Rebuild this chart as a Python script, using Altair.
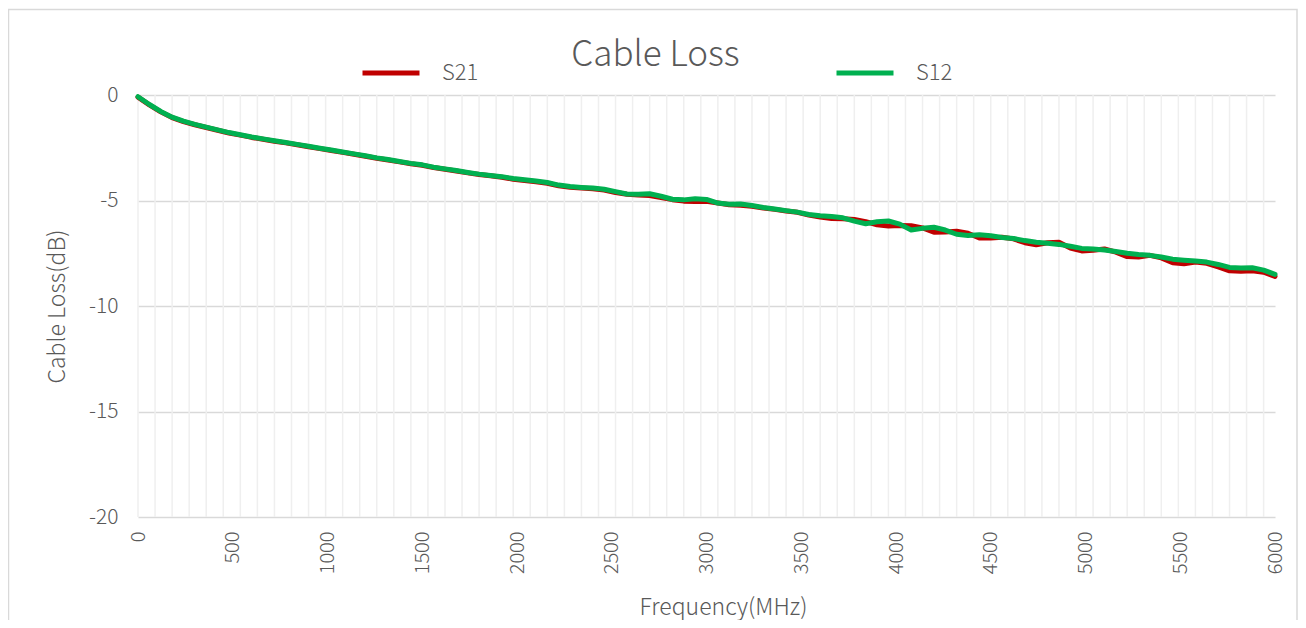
import altair as alt
import pandas as pd

# ---- data ----
freq = list(range(0, 6001, 60))  # MHz sample grid

s12 = [-0.08, -0.45, -0.78, -1.05, -1.24, -1.39, -1.52, -1.65, -1.78, -1.88,
       -1.99, -2.08, -2.17, -2.25, -2.34, -2.43, -2.52, -2.61, -2.70, -2.79,
       -2.88, -2.98, -3.06, -3.15, -3.24, -3.31, -3.42, -3.50, -3.58, -3.67,
       -3.75, -3.81, -3.87, -3.96, -4.02, -4.08, -4.15, -4.27, -4.34, -4.38,
       -4.41, -4.47, -4.58, -4.69, -4.70, -4.68, -4.80, -4.94, -4.97, -4.92,
       -4.95, -5.12, -5.18, -5.17, -5.24, -5.33, -5.40, -5.48, -5.55, -5.66,
       -5.72, -5.76, -5.82, -5.98, -6.10, -6.01, -5.97, -6.12, -6.40, -6.32,
       -6.27, -6.40, -6.60, -6.66, -6.62, -6.67, -6.75, -6.80, -6.90, -6.98,
       -7.03, -7.08, -7.17, -7.27, -7.30, -7.35, -7.42, -7.50, -7.56, -7.60,
       -7.68, -7.78, -7.83, -7.87, -7.92, -8.03, -8.17, -8.20, -8.19, -8.30,
       -8.50]

s21 = [-0.10, -0.47, -0.80, -1.07, -1.26, -1.41, -1.54, -1.67, -1.80, -1.90,
       -2.01, -2.10, -2.19, -2.27, -2.36, -2.45, -2.54, -2.63, -2.72, -2.81,
       -2.90, -3.00, -3.08, -3.17, -3.26, -3.33, -3.44, -3.52, -3.60, -3.69,
       -3.77, -3.83, -3.90, -3.99, -4.05, -4.11, -4.18, -4.30, -4.37, -4.41,
       -4.44, -4.50, -4.62, -4.70, -4.74, -4.76, -4.86, -4.96, -5.03, -5.05,
       -5.04, -5.12, -5.20, -5.22, -5.27, -5.36, -5.42, -5.50, -5.56, -5.69,
       -5.78, -5.85, -5.86, -5.90, -6.00, -6.15, -6.21, -6.18, -6.20, -6.30,
       -6.50, -6.49, -6.46, -6.55, -6.78, -6.78, -6.74, -6.82, -7.00, -7.10,
       -7.00, -6.98, -7.25, -7.39, -7.36, -7.30, -7.45, -7.66, -7.68, -7.60,
       -7.72, -7.95, -8.00, -7.92, -7.98, -8.15, -8.33, -8.35, -8.33, -8.40,
       -8.60]

series_names = ["S21", "S12"]
series_colors = ["#c00000", "#00b050"]
y_ticks = [0, -5, -10, -15, -20]
x_ticks = [0, 500, 1000, 1500, 2000, 2500, 3000, 3500, 4000, 4500, 5000, 5500, 6000]

df21 = pd.DataFrame({"f": freq, "v": s21, "s": "S21"})
df12 = pd.DataFrame({"f": freq, "v": s12, "s": "S12"})

FONT = "Noto Sans CJK SC"
TXT = "#595959"
W, H = 1137, 422
LABEL_EXPR = "datum.value < 0 ? '-' + abs(datum.value) : '' + datum.value"

x_scale = alt.Scale(domain=[0, 6000], nice=False, zero=False)
y_scale = alt.Scale(domain=[-20, 0], nice=False, zero=False)

x_axis = alt.Axis(values=x_ticks, grid=False, ticks=False, domain=False,
                  labelAngle=270, labelAlign="right", labelBaseline="middle",
                  labelPadding=14, labelFontSize=20, labelColor=TXT, labelFont=FONT,
                  labelFontWeight=300, labelFlush=False, labelOverlap=False,
                  labelExpr=LABEL_EXPR,
                  title="Frequency(MHz)", titleFontSize=23, titleColor=TXT,
                  titleFont=FONT, titleFontWeight=300, titleX=585, titleY=90,
                  titleAlign="center", titleBaseline="middle")
y_axis = alt.Axis(values=y_ticks, grid=True, gridColor="#d9d9d9", gridWidth=1.5,
                  ticks=False, domain=False, labelPadding=20, labelFontSize=21,
                  labelColor=TXT, labelFont=FONT, labelFontWeight=300, labelFlush=False,
                  labelExpr=LABEL_EXPR,
                  title="Cable Loss(dB)", titleFontSize=23, titleColor=TXT,
                  titleFont=FONT, titleFontWeight=300, titleAngle=270,
                  titleX=-81, titleY=211, titleAlign="center", titleBaseline="middle")

color = alt.Color("s:N", scale=alt.Scale(domain=series_names, range=series_colors),
                  legend=alt.Legend(orient="none", legendX=222, legendY=-53,
                                    direction="horizontal", title=None,
                                    symbolType="stroke", symbolSize=3249,
                                    symbolStrokeWidth=5, labelOffset=20,
                                    columnPadding=347, labelFontSize=22,
                                    labelColor=TXT, labelFont=FONT,
                                    labelFontWeight=300))

border = alt.Chart(pd.DataFrame({"a": [0]})).mark_rect(
    fill="transparent", stroke="#d9d9d9", strokeWidth=1.5
).encode(x=alt.value(-129.5), x2=alt.value(1159), y=alt.value(-85.5), y2=alt.value(700))

vgrid = alt.Chart(alt.sequence(0, 5941, 90, as_="f")).mark_rule(
    color="#efefef", strokeWidth=1.5
).encode(x=alt.X("f:Q", scale=x_scale, axis=x_axis))

def line(d):
    return alt.Chart(d).mark_line(strokeWidth=5, strokeCap="round", strokeJoin="round").encode(
        x=alt.X("f:Q", scale=x_scale, axis=x_axis),
        y=alt.Y("v:Q", scale=y_scale, axis=y_axis),
        color=color,
    )

chart = alt.layer(border, vgrid, line(df21), line(df12)).properties(
    width=W, height=H,
    autosize="none",
    padding={"left": 130, "top": 87, "right": 23, "bottom": 103},
    title=alt.TitleParams("Cable Loss", fontSize=35, font=FONT, color=TXT,
                          fontWeight=300, anchor="middle", frame="group",
                          baseline="alphabetic", offset=0, dx=-51, dy=92),
).configure_view(strokeWidth=0)

chart.save("out.html", embed_options={"renderer": "svg", "actions": False})
